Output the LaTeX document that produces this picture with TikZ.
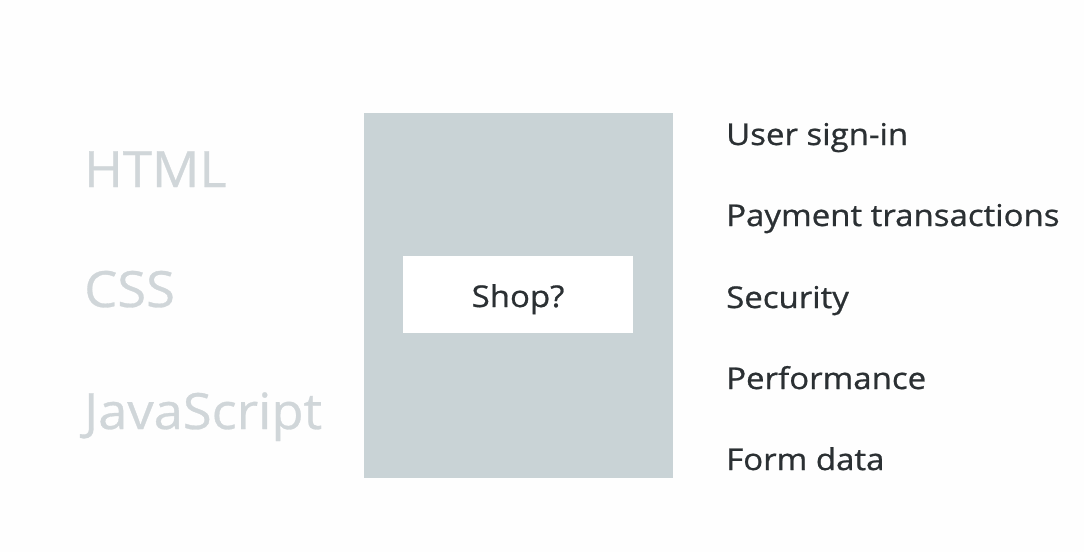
\documentclass[tikz,border=0pt]{standalone}
\usepackage{fontspec}
\setmainfont{Open Sans}
\newfontfamily\bigfont[FakeStretch=1.05,FakeBold=0.6]{Open Sans}
\newfontfamily\itemfont[FakeStretch=1.1,FakeBold=0.8]{Open Sans}
\definecolor{bg}{HTML}{FEFEFE}
\definecolor{panel}{HTML}{C9D3D6}
\definecolor{faint}{HTML}{D0D6D9}
\definecolor{ink}{HTML}{2B3033}
\begin{document}
\begin{tikzpicture}[x=1pt,y=-1pt,
  big/.style={anchor=base west,inner sep=0pt,text=faint,font=\bigfont\fontsize{50}{60}\selectfont},
  item/.style={anchor=base west,inner sep=0pt,text=ink,font=\itemfont\fontsize{30}{36}\selectfont}]
\fill[bg] (0,0) rectangle (1084,552);
\useasboundingbox (0,0) rectangle (1084,552);
\node[big] (html) at (84,187) {HTML};
\node[big] (css) at (84,307) {CSS};
\node[big] (js) at (84,429) {JavaScript};
\fill[panel] (364,113) rectangle (673,478);
\fill[white] (403,256) rectangle (633,333);
\node[anchor=base,inner sep=0pt,text=ink,font=\itemfont\fontsize{30}{36}\selectfont] (shop) at (518,307) {Shop?};
\node[item] (i1) at (726,145) {User sign-in};
\node[item] (i2) at (726,226) {Payment transactions};
\node[item] (i3) at (726,308) {Security};
\node[item] (i4) at (726,389) {Performance};
\node[item] (i5) at (726,470) {Form data};
\end{tikzpicture}
\end{document}
